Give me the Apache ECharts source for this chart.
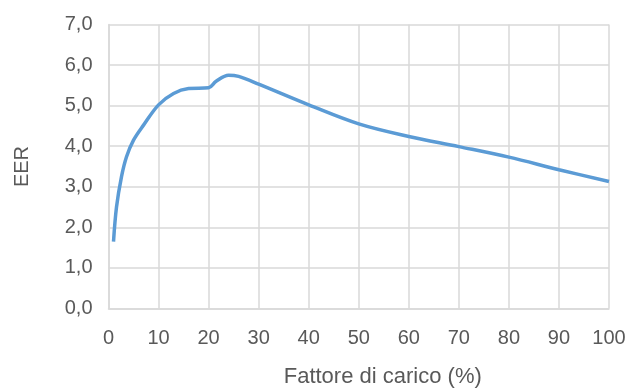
<!DOCTYPE html>
<html>
<head>
<meta charset="utf-8">
<script src="https://cdn.jsdelivr.net/npm/echarts@6/dist/echarts.min.js"></script>
<style>
html,body{margin:0;padding:0;background:#fff;}
#chart{width:628px;height:388px;}
</style>
</head>
<body>
<div id="chart"></div>
<script>
// Load factor (%) and EER values
const loadFactor = [1, 1.6, 2.6, 3.6, 5, 7, 10, 13, 16, 20, 21.5, 24, 26, 30, 40, 50, 60, 70, 80, 90, 100];
const eerValues  = [1.65, 2.5, 3.25, 3.74, 4.15, 4.52, 5.02, 5.3, 5.42, 5.44, 5.6, 5.75, 5.72, 5.53, 5.02, 4.55, 4.24, 3.99, 3.73, 3.42, 3.13];
const xTicks = { min: 0, max: 100, interval: 10 };
const yTicks = { min: 0, max: 7, interval: 1 };
const xName = 'Fattore di carico (%)';
const yName = 'EER';

const seriesData = loadFactor.map((x, i) => [x, eerValues[i]]);
const font = 'Helvetica Neue, Liberation Sans, Arial, sans-serif';
const textColor = '#595959';
const gridColor = '#d9d9d9';

const chart = echarts.init(document.getElementById('chart'), null, {renderer: 'canvas'});
chart.setOption({
  animation: false,
  backgroundColor: '#ffffff',
  grid: { left: 108.5, right: 19, top: 24.5, bottom: 79.5, containLabel: false, outerBoundsMode: 'none' },
  xAxis: {
    type: 'value',
    min: xTicks.min, max: xTicks.max, interval: xTicks.interval,
    name: xName, nameLocation: 'middle', nameGap: 57,
    nameTextStyle: { color: textColor, fontSize: 22, fontFamily: font, padding: [0, 0, 0, 48] },
    axisLine: { show: true, lineStyle: { color: gridColor, width: 1.5 } },
    axisTick: { show: false },
    axisLabel: { color: textColor, fontSize: 20, fontFamily: font, margin: 20 },
    splitLine: { show: true, lineStyle: { color: gridColor, width: 1.5 } }
  },
  yAxis: {
    type: 'value',
    min: yTicks.min, max: yTicks.max, interval: yTicks.interval,
    name: yName, nameLocation: 'middle', nameGap: 76, nameRotate: 90,
    nameTextStyle: { color: textColor, fontSize: 20, fontFamily: font },
    axisLine: { show: true, lineStyle: { color: gridColor, width: 1.5 } },
    axisTick: { show: false },
    axisLabel: { color: textColor, fontSize: 20, fontFamily: font, margin: 16,
      formatter: v => v.toFixed(1).replace('.', ',') },
    splitLine: { show: true, lineStyle: { color: gridColor, width: 1.5 } }
  },
  series: [{
    type: 'line',
    data: seriesData,
    smooth: 0.35,
    showSymbol: false,
    lineStyle: { color: '#5b9bd5', width: 3.5 },
    itemStyle: { color: '#5b9bd5' }
  }]
});
</script>
</body>
</html>
